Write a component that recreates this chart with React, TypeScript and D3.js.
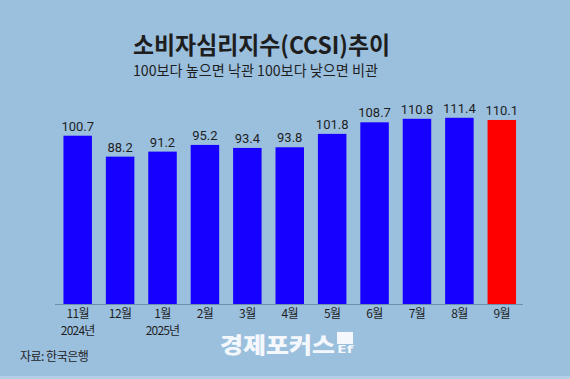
import React from "react";
import * as d3 from "d3";

const months = ["11월", "12월", "1월", "2월", "3월", "4월", "5월", "6월", "7월", "8월", "9월"];
const years = ["2024년", "", "2025년", "", "", "", "", "", "", "", ""];
const values = [100.7, 88.2, 91.2, 95.2, 93.4, 93.8, 101.8, 108.7, 110.8, 111.4, 110.1];
const title = "소비자심리지수(CCSI)추이";
const subtitle = "100보다 높으면 낙관 100보다 낮으면 비관";
const source = "자료: 한국은행";

const W = 570;
const H = 379;
const KR = "'Noto Sans CJK KR', 'Noto Sans', sans-serif";

export default function App() {
  const idx = months.map((_, i) => String(i));
  const x = d3.scaleBand<string>().domain(idx).range([56.5, 523]).paddingInner(0.328).paddingOuter(0.164);
  const y = d3.scaleLinear().domain([0, 120]).range([304.3, 103.4]);
  const last = values.length - 1;
  return (
    <svg width={W} height={H} style={{ position: "absolute", left: 0, top: 0, display: "block" }}>
      <rect x={0} y={0} width={W} height={H} fill="#9bc0de" />
      <rect x={0} y={376} width={W} height={3} fill="#b3d0e8" />
      <text x={133} y={54} fontFamily={KR} fontWeight={700} fontSize={24} fill="#1e1e1e" textLength={257} lengthAdjust="spacingAndGlyphs">{title}</text>
      <text x={133} y={76} fontFamily={KR} fontSize={15} fill="#1e1e1e" textLength={245} lengthAdjust="spacingAndGlyphs">{subtitle}</text>
      {values.map((v, i) => (
        <g key={i}>
          <rect x={x(String(i))} y={y(v)} width={x.bandwidth()} height={y(0) - y(v)} fill={i === last ? "#ff0000" : "#1600ff"} />
          <text x={(x(String(i)) as number) + x.bandwidth() / 2} y={y(v) - 5} textAnchor="middle" fontFamily="Roboto, 'Noto Sans', sans-serif" fontSize={13} fill="#1e1e1e">{v.toFixed(1)}</text>
          <text x={(x(String(i)) as number) + x.bandwidth() / 2} y={318} textAnchor="middle" fontFamily={KR} fontSize={12} letterSpacing={-0.6} fill="#1e1e1e">{months[i]}</text>
          {years[i] && (
            <text x={(x(String(i)) as number) + x.bandwidth() / 2} y={335} textAnchor="middle" fontFamily={KR} fontSize={12} letterSpacing={-0.8} fill="#1e1e1e">{years[i]}</text>
          )}
        </g>
      ))}
      <line x1={55} x2={523} y1={304.5} y2={304.5} stroke="#6d8fae" strokeWidth={1} />
      <text x={20} y={361} fontFamily={KR} fontSize={12} letterSpacing={-0.5} fill="#1e1e1e">{source}</text>
      <text x={220} y={353} fontFamily={KR} fontWeight={900} fontSize={22} fill="#f4f8fc" textLength={115} lengthAdjust="spacingAndGlyphs">경제포커스</text>
      <rect x={337} y={332} width={16} height={12} fill="#f4f8fc" />
      <text x={337} y={353} fontFamily="'Noto Sans', sans-serif" fontWeight={700} fontSize={11} fill="#f4f8fc" textLength={16} lengthAdjust="spacingAndGlyphs">Ef</text>
    </svg>
  );
}
